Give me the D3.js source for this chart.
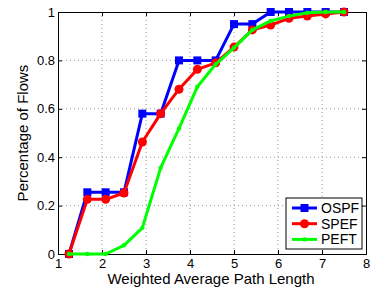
<!DOCTYPE html>
<html>
<head>
<meta charset="utf-8">
<script src="https://cdn.jsdelivr.net/npm/d3@7"></script>
<style>
body { margin: 0; background: #fff; }
text { font-family: "Liberation Sans", Arial, sans-serif; }
</style>
</head>
<body>
<div id="chart"></div>
<script>
// data
const pathLength = [1.25, 1.667, 2.083, 2.5, 2.917, 3.333, 3.75, 4.167, 4.583, 5, 5.417, 5.833, 6.25, 6.667, 7.083, 7.5];
const ospf = [0, 0.255, 0.255, 0.255, 0.58, 0.58, 0.80, 0.80, 0.80, 0.95, 0.95, 1, 1, 1, 1, 1];
const spef = [0, 0.226, 0.226, 0.252, 0.463, 0.58, 0.681, 0.763, 0.79, 0.855, 0.926, 0.946, 0.974, 0.983, 0.992, 1];
const peft = [0, 0, 0, 0.036, 0.108, 0.356, 0.519, 0.691, 0.784, 0.852, 0.926, 0.963, 0.983, 0.997, 1, 1];
const seriesNames = ["OSPF", "SPEF", "PEFT"];
const xTicks = [1, 2, 3, 4, 5, 6, 7, 8];
const yTicks = [0, 0.2, 0.4, 0.6, 0.8, 1];

const width = 371, height = 289;
const margin = { top: 12, right: 5, bottom: 35, left: 58 };
const w = width - margin.left - margin.right;
const h = height - margin.top - margin.bottom;

const svg = d3.select("#chart").append("svg")
    .attr("width", width)
    .attr("height", height);

const g = svg.append("g")
    .attr("transform", "translate(" + margin.left + "," + margin.top + ")");

const x = d3.scaleLinear().domain([1, 8]).range([0, w]);
const y = d3.scaleLinear().domain([0, 1]).range([h, 0]);

//grid
g.append("g").selectAll("line")
    .data(xTicks.slice(1, -1))
    .join("line")
    .attr("x1", d => x(d)).attr("x2", d => x(d))
    .attr("y1", 0).attr("y2", h)
    .attr("stroke", "#999").attr("stroke-width", 1)
    .attr("stroke-dasharray", "1,3");
g.append("g").selectAll("line")
    .data(yTicks.slice(1, -1))
    .join("line")
    .attr("x1", 0).attr("x2", w)
    .attr("y1", d => y(d)).attr("y2", d => y(d))
    .attr("stroke", "#999").attr("stroke-width", 1)
    .attr("stroke-dasharray", "1,3");

//axes, ticks inward
const xAxis = d3.axisBottom(x).tickValues(xTicks).tickSize(-4).tickPadding(5).tickFormat(d3.format("d"));
const yAxis = d3.axisLeft(y).tickValues(yTicks).tickSize(-4).tickPadding(3).tickFormat(d => d);

const xg = g.append("g").attr("transform", "translate(0," + h + ")").call(xAxis);
const yg = g.append("g").call(yAxis);
g.append("g").call(d3.axisTop(x).tickValues(xTicks).tickSize(-4).tickFormat(""));
g.append("g").attr("transform", "translate(" + w + ",0)").call(d3.axisRight(y).tickValues(yTicks).tickSize(-4).tickFormat(""));

g.selectAll(".domain").attr("stroke", "#000").attr("stroke-width", 1);
g.selectAll(".tick line").attr("stroke", "#000");
xg.selectAll("text").style("font-size", "13px").attr("fill", "#000");
yg.selectAll("text").style("font-size", "13px").attr("fill", "#000");

// labels
svg.append("text")
    .attr("x", margin.left + w / 2 - 1)
    .attr("y", 284)
    .attr("text-anchor", "middle")
    .style("font-size", "15px")
    .text("Weighted Average Path Length");
svg.append("text")
    .attr("transform", "translate(28," + (margin.top + h / 2) + ") rotate(-90)")
    .attr("text-anchor", "middle")
    .style("font-size", "15px")
    .text("Percentage of Flows");

const colors = ["#0000ff", "#ff0000", "#00ff00"];
const allSeries = [ospf, spef, peft];

const line = d3.line()
    .x((d, i) => x(pathLength[i]))
    .y(d => y(d));

function marker(sel, k) {
    if (k === 0) {
        sel.append("rect").attr("x", -4).attr("y", -4).attr("width", 8).attr("height", 8)
            .attr("fill", colors[k]);
    } else if (k === 1) {
        sel.append("circle").attr("r", 4.5).attr("fill", colors[k]);
    } else {
        sel.append("circle").attr("r", 2.2).attr("fill", colors[k]);
    }
}

allSeries.forEach((vals, k) => {
    g.append("path")
        .datum(vals)
        .attr("d", line)
        .attr("fill", "none")
        .attr("stroke", colors[k])
        .attr("stroke-width", 3)
        .attr("stroke-linejoin", "round");
    g.append("g").selectAll("g")
        .data(vals)
        .join("g")
        .attr("transform", (d, i) => "translate(" + x(pathLength[i]) + "," + y(d) + ")")
        .each(function() { marker(d3.select(this), k); });
});

// legend
const lg = svg.append("g").attr("transform", "translate(286,198)");
lg.append("rect")
    .attr("width", 76).attr("height", 51)
    .attr("fill", "#fff").attr("stroke", "#000").attr("stroke-width", 1);
seriesNames.forEach((name, k) => {
    const row = lg.append("g").attr("transform", "translate(0," + (10 + k * 15.7) + ")");
    row.append("line").attr("x1", 6).attr("x2", 31).attr("y1", 0).attr("y2", 0)
        .attr("stroke", colors[k]).attr("stroke-width", 3);
    marker(row.append("g").attr("transform", "translate(18.5,0)"), k);
    row.append("text").attr("x", 35).attr("y", 0).attr("dy", "0.36em")
        .style("font-size", "14px").text(name);
});
</script>
</body>
</html>
